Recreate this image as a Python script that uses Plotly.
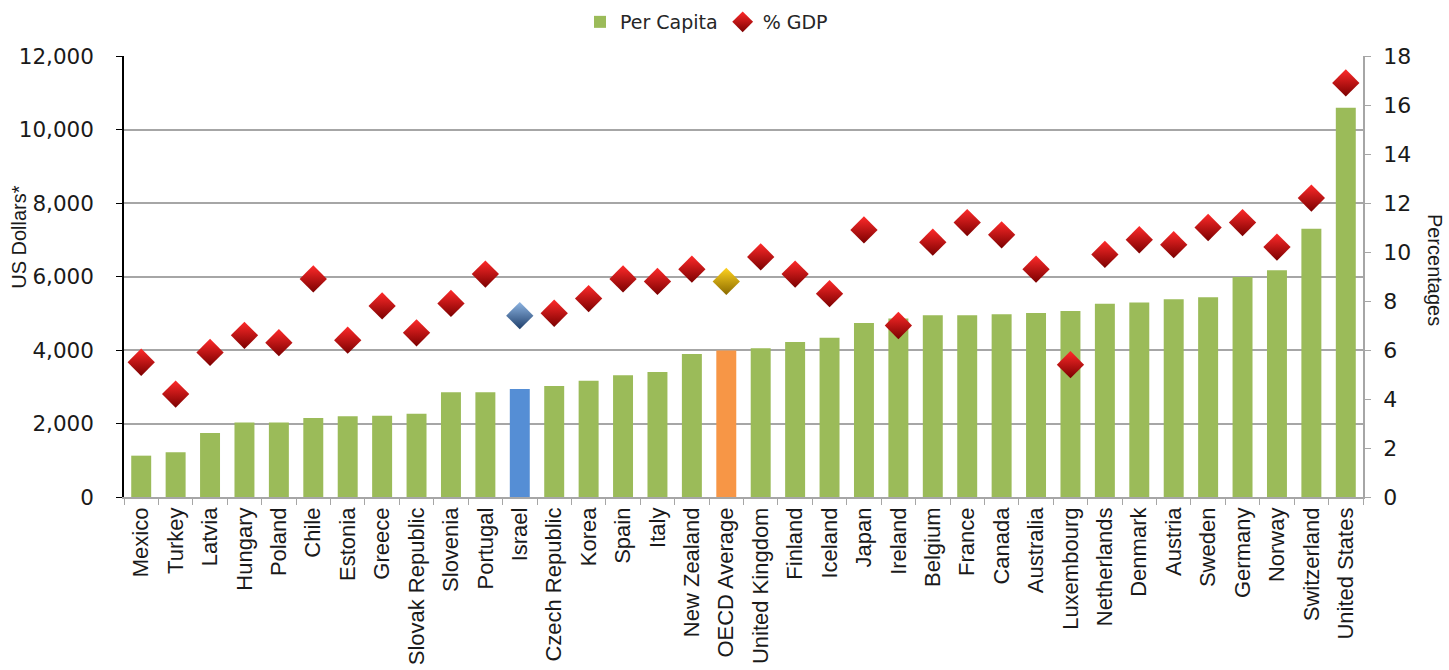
import plotly.graph_objects as go

countries = [
    "Mexico", "Turkey", "Latvia", "Hungary", "Poland", "Chile", "Estonia",
    "Greece", "Slovak Republic", "Slovenia", "Portugal", "Israel",
    "Czech Republic", "Korea", "Spain", "Italy", "New Zealand",
    "OECD Average", "United Kingdom", "Finland", "Iceland", "Japan",
    "Ireland", "Belgium", "France", "Canada", "Australia", "Luxembourg",
    "Netherlands", "Denmark", "Austria", "Sweden", "Germany", "Norway",
    "Switzerland", "United States",
]

# Health spending per capita (US dollars)
per_capita = [
    1125, 1215, 1740, 2030, 2025, 2150, 2200,
    2210, 2265, 2850, 2850, 2940,
    3020, 3165, 3310, 3400, 3890,
    3985, 4045, 4220, 4335, 4735,
    4860, 4945, 4945, 4970, 5005, 5060,
    5260, 5290, 5380, 5435, 5985, 6170,
    7300, 10595,
]

# Health spending as share of GDP (%)
pct_gdp = [
    5.5, 4.2, 5.9, 6.6, 6.3, 8.9, 6.4,
    7.8, 6.7, 7.9, 9.1, 7.4,
    7.5, 8.1, 8.9, 8.8, 9.3,
    8.8, 9.8, 9.1, 8.3, 10.9,
    7.0, 10.4, 11.2, 10.7, 9.3, 5.4,
    9.9, 10.5, 10.3, 11.0, 11.2, 10.2,
    12.2, 16.9,
]

left_ticks = [0, 2000, 4000, 6000, 8000, 10000, 12000]
right_ticks = [0, 2, 4, 6, 8, 10, 12, 14, 16, 18]

GREEN = "#9BBB59"
bar_colors = []
dia_top = []
dia_bottom = []
for c in countries:
    if c == "Israel":
        bar_colors.append("#558ED5")
        dia_top.append("#8DB4E2")
        dia_bottom.append("#1F3F6B")
    elif c == "OECD Average":
        bar_colors.append("#F79646")
        dia_top.append("#FFD21F")
        dia_bottom.append("#8A6A00")
    else:
        bar_colors.append(GREEN)
        dia_top.append("#FF2A2A")
        dia_bottom.append("#7A0000")

fig = go.Figure()

fig.add_trace(go.Bar(
    x=countries, y=per_capita, name="Per Capita",
    marker=dict(color=bar_colors, line=dict(width=0)),
    yaxis="y",
))

fig.add_trace(go.Scatter(
    x=countries, y=pct_gdp, name="% GDP", mode="markers",
    marker=dict(
        symbol="diamond", size=21, color=dia_top,
        gradient=dict(type="vertical", color=dia_bottom),
        line=dict(width=0),
    ),
    yaxis="y2",
))

AXIS_GREY = "#A6A6A6"
PLOT_W = 1449 - 124 - 86

fig.update_layout(
    width=1449, height=670,
    margin=dict(l=124, r=86, t=56, b=173, autoexpand=False),
    plot_bgcolor="white", paper_bgcolor="white",
    bargap=0.42,
    font=dict(family="DejaVu Sans", color="#1a1a1a"),
    showlegend=True,
    legend=dict(
        orientation="h", x=580 / 1449, xref="container", xanchor="left",
        y=1 - 22 / 670, yref="container", yanchor="middle",
        font=dict(family="DejaVu Sans", size=19, color="#262626"),
        itemwidth=30, traceorder="normal",
    ),
    xaxis=dict(
        type="category", range=[-0.5, len(countries) - 0.5],
        tickson="boundaries", ticks="outside", ticklen=6,
        tickcolor=AXIS_GREY, showline=True, linecolor=AXIS_GREY, linewidth=1.5,
        tickangle=-90, tickfont=dict(family="Liberation Sans", size=22, color="#1a1a1a"),
        showgrid=False,
    ),
    yaxis=dict(
        range=[0, 12000], tickvals=left_ticks, tickformat=",",
        ticks="outside", ticklen=6, tickcolor="#000000",
        showline=True, linecolor="#000000", linewidth=1.5,
        showgrid=True, gridcolor=AXIS_GREY, gridwidth=1.5,
        tickfont=dict(family="DejaVu Sans", size=21.5, color="#1a1a1a"),
        ticklabelstandoff=18, zeroline=False,
    ),
    yaxis2=dict(
        range=[0, 18], tickvals=right_ticks, overlaying="y", side="right",
        ticks="outside", ticklen=6, tickcolor=AXIS_GREY,
        showline=True, linecolor=AXIS_GREY, linewidth=1.5,
        showgrid=False, zeroline=False,
        tickfont=dict(family="DejaVu Sans", size=22, color="#1a1a1a"),
        ticklabelstandoff=8,
    ),
    annotations=[
        dict(text="US Dollars*", x=-105 / PLOT_W, xref="paper",
             y=0.59, yref="paper", xanchor="center", yanchor="middle",
             textangle=-90, showarrow=False,
             font=dict(family="Liberation Sans", size=20, color="#1a1a1a")),
        dict(text="Percentages", x=1 + 72 / PLOT_W, xref="paper",
             y=0.515, yref="paper", xanchor="center", yanchor="middle",
             textangle=90, showarrow=False,
             font=dict(family="Liberation Sans", size=20, color="#1a1a1a")),
    ],
)

fig.write_html("out.html")
